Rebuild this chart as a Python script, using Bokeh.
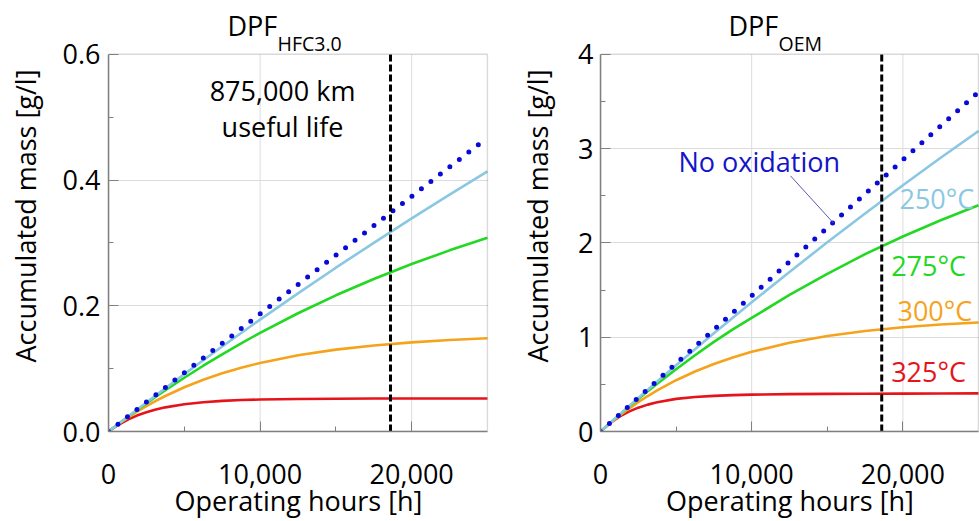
from bokeh.plotting import figure
from bokeh.layouts import row
from bokeh.models import (Label, FixedTicker, NumeralTickFormatter,
                          Range1d, Arrow, BoxAnnotation)
from bokeh.embed import file_html
from bokeh.resources import INLINE

# ---------------- data ----------------
hours = [0, 625, 1250, 1875, 2500, 3125, 3750, 5000, 6250, 7500, 8750, 10000,
         12500, 15000, 17500, 20000, 22500, 25000]

# DPF HFC3.0 accumulated mass [g/l]
hfc_no_ox = [0, 0.0117, 0.0234, 0.0351, 0.0468, 0.0584, 0.0701, 0.0935, 0.1169, 0.1403,
             0.1636, 0.187, 0.2338, 0.2805, 0.3273, 0.374, 0.4208, 0.4675]
hfc_250 = [0, 0.0116, 0.0232, 0.0347, 0.0462, 0.0575, 0.0688, 0.0912, 0.1133, 0.1351,
           0.1567, 0.1780, 0.2197, 0.2605, 0.3001, 0.3390, 0.3768, 0.4136]
hfc_275 = [0, 0.0114, 0.0228, 0.0339, 0.0447, 0.0552, 0.0656, 0.0855, 0.1046, 0.1228,
           0.1402, 0.1569, 0.1881, 0.2166, 0.2426, 0.2663, 0.2881, 0.3080]
hfc_300 = [0, 0.0113, 0.0217, 0.0314, 0.0404, 0.0488, 0.0565, 0.0704, 0.0823, 0.0926,
           0.1014, 0.1090, 0.1212, 0.1302, 0.1369, 0.1418, 0.1455, 0.1482]
hfc_325 = [0, 0.0103, 0.0186, 0.0253, 0.0306, 0.0349, 0.0384, 0.0434, 0.0466, 0.0487,
           0.0500, 0.0509, 0.0518, 0.0522, 0.0524, 0.0525, 0.0525, 0.0525]

# DPF OEM accumulated mass [g/l]
oem_no_ox = [0, 0.09, 0.18, 0.27, 0.36, 0.45, 0.54, 0.72, 0.90, 1.08,
             1.26, 1.44, 1.80, 2.16, 2.52, 2.88, 3.24, 3.60]
oem_250 = [0, 0.0897, 0.1789, 0.2676, 0.3555, 0.4431, 0.5301, 0.7023, 0.8725, 1.0405,
           1.2066, 1.3703, 1.692, 2.006, 2.311, 2.611, 2.902, 3.185]
oem_275 = [0, 0.0890, 0.1761, 0.2612, 0.3447, 0.4262, 0.5060, 0.6603, 0.8084, 0.950,
           1.082, 1.205, 1.448, 1.672, 1.880, 2.068, 2.240, 2.399]
oem_300 = [0, 0.0867, 0.1673, 0.2422, 0.3117, 0.3763, 0.4363, 0.5438, 0.6365, 0.7165,
           0.7856, 0.8451, 0.9409, 1.0121, 1.0653, 1.1048, 1.1343, 1.1562]
oem_325 = [0, 0.088, 0.157, 0.211, 0.253, 0.285, 0.311, 0.346, 0.366, 0.378,
           0.386, 0.391, 0.396, 0.399, 0.401, 0.402, 0.403, 0.404]

useful_life_hours = 18600
x_max = 25000
x_ticks = [0, 10000, 20000]
x_minor = [5000, 15000]
hfc_y_max = 0.6
hfc_y_ticks = [0, 0.2, 0.4, 0.6]
hfc_y_minor = [0.1, 0.3, 0.5]
oem_y_max = 4
oem_y_ticks = [0, 1, 2, 3, 4]
oem_y_minor = [0.5, 1.5, 2.5, 3.5]
temp_labels = ["250°C", "275°C", "300°C", "325°C"]

FONT = "Open Sans"
FS = "27px"
C_NOOX = "#0a0ad8"
C_250 = "#8ac8e2"
C_275 = "#22d822"
C_300 = "#f5a31c"
C_325 = "#e5141b"
FRAME = "#808080"
GRID = "#dcdcdc"
H = 521
BOTTOM = 88
TOP_GAP = 54          # header space above the drawn plot box
BOX_PX = H - BOTTOM - TOP_GAP


def make_panel(width, bl, br, box_w, y_max, y_ticks, y_minor, y_fmt, series,
               ylab_standoff, ytick_standoff):
    frame_w = width - bl - br
    y_end = y_max * (H - BOTTOM) / BOX_PX
    x_end = x_max * frame_w / box_w
    p = figure(width=width, height=H, output_backend="svg", toolbar_location=None,
               x_range=Range1d(0, x_end), y_range=Range1d(0, y_end),
               min_border_left=bl, min_border_right=br, min_border_top=0,
               min_border_bottom=BOTTOM, background_fill_color="white",
               border_fill_color="white")
    p.outline_line_color = None
    p.xaxis.ticker = FixedTicker(ticks=x_ticks, minor_ticks=x_minor)
    p.yaxis.ticker = FixedTicker(ticks=y_ticks, minor_ticks=y_minor)
    p.xaxis.formatter = NumeralTickFormatter(format="0,0")
    p.yaxis.formatter = NumeralTickFormatter(format=y_fmt)
    p.xaxis.bounds = (0, x_max)
    p.yaxis.bounds = (0, y_max)
    for ax in (p.xaxis, p.yaxis):
        ax.axis_line_color = FRAME
        ax.axis_line_width = 1.5
        ax.major_tick_line_color = FRAME
        ax.minor_tick_line_color = FRAME
        ax.major_tick_in = 10
        ax.major_tick_out = 0
        ax.minor_tick_in = 5
        ax.minor_tick_out = 0
        ax.major_label_text_font = FONT
        ax.major_label_text_font_size = FS
        ax.major_label_text_color = "black"
        ax.axis_label_text_font = FONT
        ax.axis_label_text_font_size = FS
        ax.axis_label_text_font_style = "normal"
        ax.axis_label_text_color = "black"
    p.xaxis.axis_label = "Operating hours [h]"
    p.yaxis.axis_label = "Accumulated mass [g/l]"
    p.xaxis.major_label_standoff = 32
    p.xaxis.axis_label_standoff = -5
    p.yaxis.major_label_standoff = ytick_standoff
    p.yaxis.axis_label_standoff = ylab_standoff
    p.xgrid.visible = False
    p.ygrid.grid_line_color = GRID
    p.ygrid.ticker = FixedTicker(ticks=y_ticks[1:-1])
    # vertical grid lines limited to the plot box
    inner_x = x_ticks[1:]
    p.segment(x0=inner_x, y0=[0] * len(inner_x), x1=inner_x, y1=[y_max] * len(inner_x),
              line_color=GRID, line_width=1)

    no_ox, s250, s275, s300, s325 = series
    p.line(hours, s325, line_color=C_325, line_width=2.6)
    p.line(hours, s300, line_color=C_300, line_width=2.6)
    p.line(hours, s275, line_color=C_275, line_width=2.6)
    p.line(hours, s250, line_color=C_250, line_width=2.6)
    p.line(hours, no_ox, line_color=C_NOOX, line_width=5, line_dash="0 12",
           line_cap="round")
    p.segment(x0=[useful_life_hours], y0=[0], x1=[useful_life_hours], y1=[y_max],
              line_color="black", line_width=3, line_dash="7 3")
    p.add_layout(BoxAnnotation(left=0, right=x_max, bottom=0, top=y_max,
                               fill_alpha=0, line_color=FRAME, line_width=1.5))
    return p


p1 = make_panel(490, 108, 2, 379, hfc_y_max, hfc_y_ticks, hfc_y_minor, "0.0",
                (hfc_no_ox, hfc_250, hfc_275, hfc_300, hfc_325), 16, 8)
p2 = make_panel(489, 110, 0, 378, oem_y_max, oem_y_ticks, oem_y_minor, "0",
                (oem_no_ox, oem_250, oem_275, oem_300, oem_325), 19, 7)


def lab(p, x, y, text, color="black", size=FS, align="left"):
    p.add_layout(Label(x=x, y=y, text=text, text_color=color, text_font=FONT,
                       text_font_size=size, text_align=align,
                       text_baseline="alphabetic"))

# panel titles with subscripts
lab(p1, 7850, 0.6459, "DPF")
lab(p1, 11148, 0.6174, "HFC3.0", size="19.5px")
lab(p2, 8466, 4.306, "DPF")
lab(p2, 11772, 4.116, "OEM", size="19.5px")

# annotations left
lab(p1, 11480, 0.542, "875,000 km", align="center")
lab(p1, 11480, 0.485, "useful life", align="center")

# annotations right
lab(p2, 5160, 2.86, "No oxidation", color="#1414c8")
p2.add_layout(Arrow(end=None, x_start=12570, y_start=2.71, x_end=15410, y_end=2.21,
                    line_color="#5a5ab4", line_width=1))
lab(p2, 19775, 2.47, temp_labels[0], color=C_250)
lab(p2, 19225, 1.755, temp_labels[1], color=C_275)
lab(p2, 19640, 1.285, temp_labels[2], color=C_300)
lab(p2, 19225, 0.64, temp_labels[3], color=C_325)

layout = row(p1, p2)
open("out.html", "w").write(file_html(layout, INLINE))
